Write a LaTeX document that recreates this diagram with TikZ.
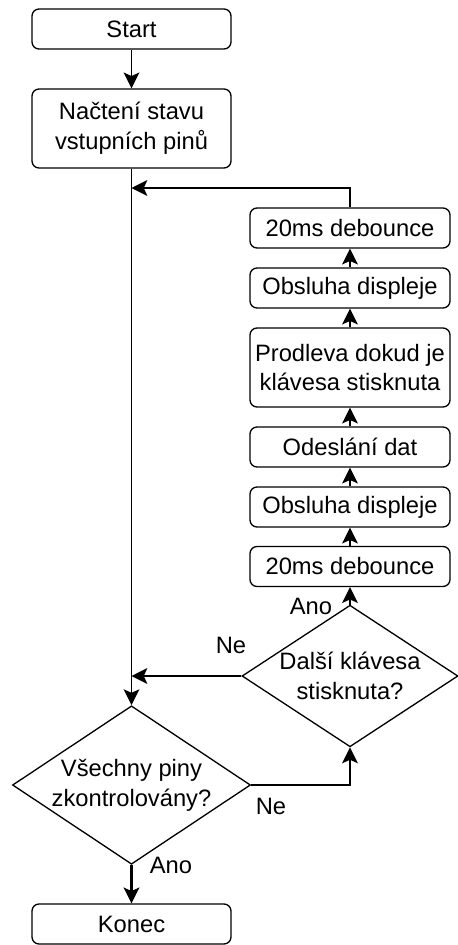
\documentclass[tikz,border=0pt]{standalone}
\usepackage{fontspec}
\setmainfont{Liberation Sans}
\usetikzlibrary{arrows.meta, shapes.geometric}

\begin{document}
\begin{tikzpicture}[
    font=\fontsize{13.5pt}{17pt}\selectfont,
    line width=0.75pt,
    arr/.style={-{Stealth[length=9pt, width=9pt, inset=2pt]}},
    box/.style={draw, rounded corners=4pt, minimum width=3.98cm,
        minimum height=0.8cm, inner sep=0pt, align=center},
    decision/.style={draw, diamond, aspect=1.5, inner sep=0pt, align=center},
    lbl/.style={inner sep=0pt}
]
    \useasboundingbox (0,0) rectangle (9.14,-18.9);

    \node[box] (Start) at (2.63,-0.58) {Start};
    \node[box, minimum height=1.58cm] (Read) at (2.63,-2.57)
        {Načtení stavu\\vstupních pinů};

    \node[box, minimum width=4cm] (DebB) at (7,-4.56) {20ms debounce};
    \node[box, minimum width=4cm] (DispB) at (7,-5.76) {Obsluha displeje};
    \node[box, minimum width=4cm, minimum height=1.58cm] (Wait) at (7,-7.35)
        {Prodleva dokud je\\klávesa stisknuta};
    \node[box, minimum width=4cm] (Send) at (7,-8.94) {Odeslání dat};
    \node[box, minimum width=4cm] (DispA) at (7,-10.14) {Obsluha displeje};
    \node[box, minimum width=4cm] (DebA) at (7,-11.33) {20ms debounce};

    \node[decision, minimum width=4.32cm, minimum height=2.76cm] (Key)
        at (7,-13.52) {Další klávesa\\stisknuta?};
    \node[decision, minimum width=4.76cm, minimum height=3.16cm] (Pins)
        at (2.63,-15.7) {Všechny piny\\zkontrolovány?};

    \node[box] (End) at (2.63,-18.48) {Konec};

    \coordinate (Back) at (2.63,-3.76);
    \coordinate (Skip) at (Key.west -| Pins.north);

    \draw[arr] (Start) -- (Read);
    \draw[arr] (Read) -- (Pins);
    \draw[arr] (DebB.north) |- (Back);
    \draw[arr] (Key.west) -- (Skip);
    \draw[arr] (Key) -- (DebA);
    \draw[arr] (DebA) -- (DispA);
    \draw[arr] (DispA) -- (Send);
    \draw[arr] (Send) -- (Wait);
    \draw[arr] (Wait) -- (DispB);
    \draw[arr] (DispB) -- (DebB);
    \draw[arr] (Pins.east) -| (Key.south);
    \draw[arr, line width=1.2pt] (Pins) -- (End);

    \node[lbl] at (6.22,-12.12) {Ano};
    \node[lbl] at (4.62,-12.9) {Ne};
    \node[lbl] at (5.42,-16.12) {Ne};
    \node[lbl] at (3.42,-17.3) {Ano};
\end{tikzpicture}
\end{document}
